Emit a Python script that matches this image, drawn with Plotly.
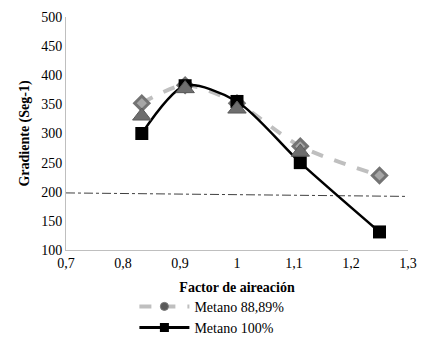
import plotly.graph_objects as go

x_vals = [0.833, 0.909, 1.0, 1.111, 1.25]
metano_8889 = [352, 383, 352, 278, 228]
metano_100 = [300, 382, 355, 250, 131]
x_tri = [0.833, 0.909, 1.0, 1.111]
tri_vals = [330, 377, 342, 268]
ref_x = [0.7, 1.3]
ref_y = [198, 192]

ff = "Liberation Serif"

fig = go.Figure()
fig.add_trace(go.Scatter(
    x=ref_x, y=ref_y, mode="lines", showlegend=False,
    line=dict(color="#404040", width=1, dash="dashdot"), hoverinfo="skip"))
fig.add_trace(go.Scatter(
    x=x_vals, y=metano_8889, mode="lines+markers", name="Metano 88,89%", showlegend=False,
    line=dict(color="#bfbfbf", width=4, dash="dash", shape="spline", smoothing=0.8),
    marker=dict(symbol="diamond", size=11, color="#a6a6a6",
                line=dict(color="#737373", width=3))))
fig.add_trace(go.Scatter(
    x=x_vals, y=metano_100, mode="lines+markers", name="Metano 100%", showlegend=False,
    line=dict(color="#000000", width=2.5, shape="spline", smoothing=0.8),
    marker=dict(symbol="square", size=13, color="#000000")))
fig.add_trace(go.Scatter(
    x=x_tri, y=tri_vals, mode="markers", showlegend=False,
    marker=dict(symbol="triangle-up", size=16, color="#6e6e6e",
                line=dict(color="#5a5a5a", width=1))))
# legend-only entries
fig.add_trace(go.Scatter(
    x=[None], y=[None], mode="lines+markers", name="Metano 88,89%",
    line=dict(color="#bfbfbf", width=4, dash="dash"),
    marker=dict(symbol="circle", size=8, color="#595959",
                line=dict(color="#737373", width=1))))
fig.add_trace(go.Scatter(
    x=[None], y=[None], mode="lines+markers", name="Metano 100%",
    line=dict(color="#000000", width=3),
    marker=dict(symbol="square", size=9, color="#000000")))

fig.update_layout(
    width=411, height=332,
    margin=dict(l=58, r=11, t=9, b=90, autoexpand=False),
    paper_bgcolor="white", plot_bgcolor="white",
    separators=",.",
    font=dict(family=ff, size=14, color="#000000"),
    xaxis=dict(range=[0.7, 1.3], dtick=0.1, tick0=0.7, showgrid=False, zeroline=False,
               showline=True, linecolor="#bfbfbf", linewidth=1, ticks="",
               ticklabeloverflow="allow",
               title=dict(text="<b>Factor de aireación</b>", font=dict(family=ff, size=14), standoff=12),
               tickfont=dict(family=ff, size=14)),
    yaxis=dict(range=[100, 500], dtick=50, showgrid=False, zeroline=False,
               showline=True, linecolor="#bfbfbf", linewidth=1, ticks="",
               title=dict(text="<b>Gradiente (Seg-1)</b>", font=dict(family=ff, size=14), standoff=8),
               tickfont=dict(family=ff, size=14)),
    legend=dict(x=0.2, y=-0.175, xanchor="left", yanchor="top",
                bgcolor="rgba(0,0,0,0)", font=dict(family=ff, size=14), tracegroupgap=0,
                itemwidth=50),
)

fig.write_html("out.html")
